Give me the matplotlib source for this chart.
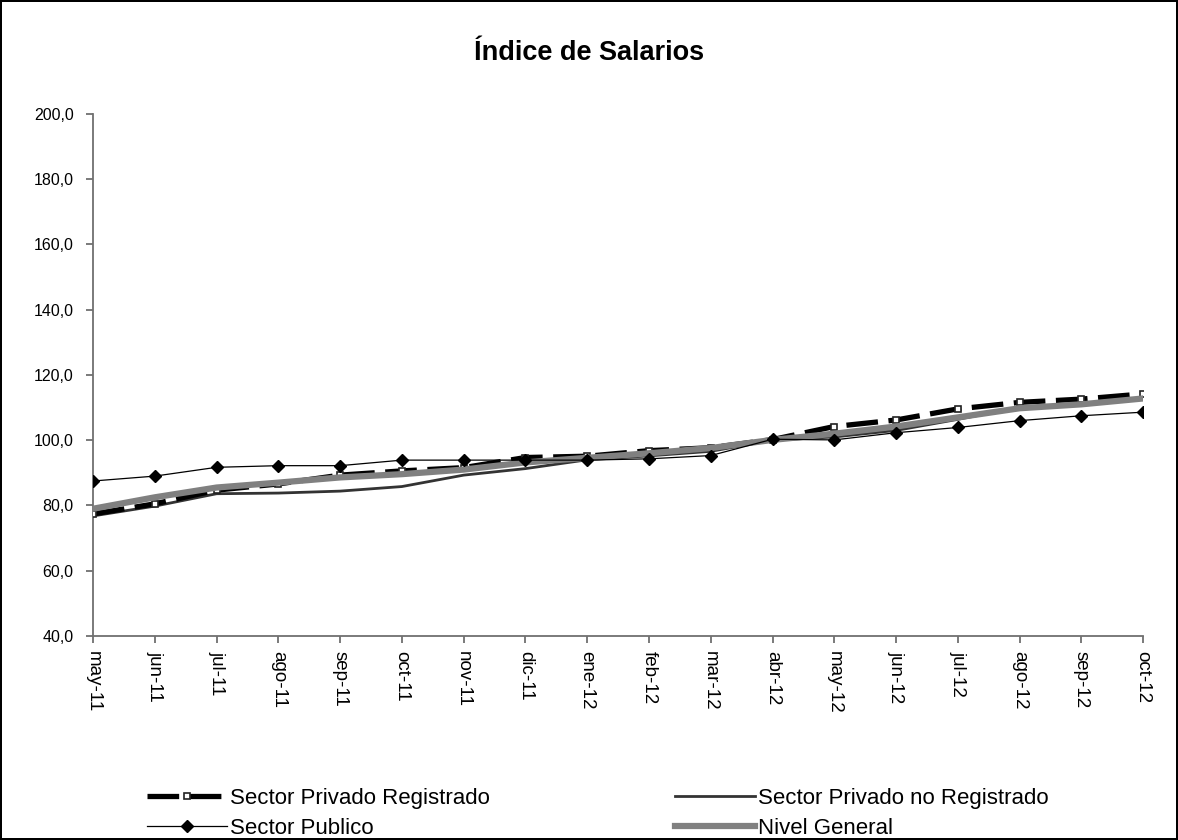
import matplotlib.pyplot as plt
import numpy as np

plt.rcParams['font.family'] = ['Liberation Sans', 'DejaVu Sans']

meses = ['may-11', 'jun-11', 'jul-11', 'ago-11', 'sep-11', 'oct-11', 'nov-11', 'dic-11', 'ene-12',
         'feb-12', 'mar-12', 'abr-12', 'may-12', 'jun-12', 'jul-12', 'ago-12', 'sep-12', 'oct-12']

privado_registrado = [77.4, 80.5, 84.7, 86.6, 89.3, 90.6, 91.6, 94.7, 95.1,
                      96.8, 97.7, 100.2, 104.2, 106.2, 109.6, 111.6, 112.6, 114.2]
privado_no_registrado = [76.8, 79.8, 83.6, 83.8, 84.4, 85.8, 89.3, 91.3, 94.0,
                         95.2, 96.6, 100.0, 101.0, 103.0, 106.4, 110.0, 111.2, 113.0]
sector_publico = [87.5, 89.0, 91.7, 92.2, 92.2, 93.9, 93.9, 93.9, 93.9,
                  94.3, 95.3, 100.3, 100.1, 102.3, 103.9, 106.0, 107.5, 108.6]
nivel_general = [79.0, 82.5, 85.5, 87.0, 88.6, 89.6, 91.0, 93.2, 94.6,
                 96.0, 97.6, 100.1, 102.0, 104.2, 107.0, 109.8, 111.0, 112.8]

x = np.arange(len(meses))

fig = plt.figure(figsize=(11.78, 8.40), dpi=100)
fig.patch.set_edgecolor('black')
fig.patch.set_linewidth(1.5)
ax = fig.add_axes([0.079, 0.2429, 0.8914, 0.6214])

l_reg, = ax.plot(x, privado_registrado, color='black', lw=3.8, dashes=(6, 2),
                 marker='s', ms=5, mfc='white', mec='#222222', mew=1.2, zorder=3)
l_noreg, = ax.plot(x, privado_no_registrado, color='#333333', lw=2.0, zorder=2)
l_pub, = ax.plot(x, sector_publico, color='black', lw=0.9, marker='D', ms=6,
                 mfc='black', mec='black', zorder=4)
l_gen, = ax.plot(x, nivel_general, color='#808080', lw=4.5, zorder=3.5)

ax.set_xlim(0, len(meses) - 1)
ax.set_ylim(40, 200)
ax.set_yticks(np.arange(40, 201, 20))
ax.set_yticklabels([f'{v:.1f}'.replace('.', ',') for v in np.arange(40, 201, 20)], fontsize=11.5)
ax.set_xticks(x)
ax.set_xticklabels(meses, rotation=270, fontsize=13.5, va='top', ha='center')

for s in ['top', 'right']:
    ax.spines[s].set_visible(False)
for s in ['left', 'bottom']:
    ax.spines[s].set_color('#707070')
    ax.spines[s].set_linewidth(1.3)
ax.tick_params(axis='both', color='#707070', length=5, width=1.3)
ax.tick_params(axis='x', pad=6)
ax.tick_params(axis='y', pad=9)

fig.text(0.5, 0.937, 'Índice de Salarios', ha='center', va='center', fontsize=19.5, fontweight='bold')

leg_kw = dict(loc='upper left', frameon=False, fontsize=16, handlelength=3.6,
              handletextpad=0.12, labelspacing=0.4, borderaxespad=0, borderpad=0)
fig.legend([l_reg, l_pub], ['Sector Privado Registrado', 'Sector Publico'],
           bbox_to_anchor=(0.125, 0.062), **leg_kw)
fig.legend([l_noreg, l_gen], ['Sector Privado no Registrado', 'Nivel General'],
           bbox_to_anchor=(0.573, 0.062), **leg_kw)

fig.savefig('out.png', dpi=100)
